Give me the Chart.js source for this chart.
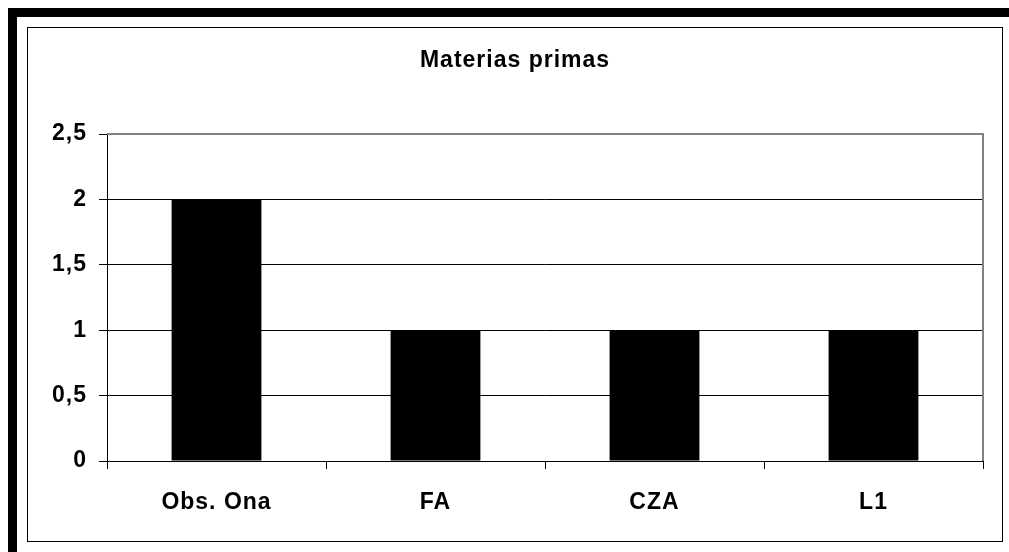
<!DOCTYPE html>
<html>
<head>
<meta charset="utf-8">
<script src="https://cdn.jsdelivr.net/npm/chart.js@4.4.1/dist/chart.umd.min.js"></script>
<style>
  html, body { margin: 0; padding: 0; background: #fff; }
  #wrap { position: relative; width: 1009px; height: 552px; }
</style>
</head>
<body>
<div id="wrap"><canvas id="chart"></canvas></div>
<script>
// data
const categories = ['Obs. Ona', 'FA', 'CZA', 'L1'];
const values = [2, 1, 1, 1];
const yMin = 0;
const yMax = 2.5;
const yStep = 0.5;
const chartTitle = 'Materias primas';

const labelFont = { family: "'Liberation Sans', Arial, sans-serif", size: 23, weight: 'bold' };

// the reference text is a bit wide, so space the letters out a little
function setSpacing(chart) {
  if ('letterSpacing' in chart.ctx) chart.ctx.letterSpacing = '1px';
}

// page frame: thick black band top/left plus thin inner frame, gray plot border
const framePlugin = {
  id: 'frame',
  beforeUpdate: setSpacing,
  beforeLayout: setSpacing,
  beforeDraw(chart) {
    setSpacing(chart);
    const c = chart.ctx;
    c.save();
    c.fillStyle = '#fff';
    c.fillRect(0, 0, chart.width, chart.height);
    c.fillStyle = '#000';
    c.fillRect(8, 8, chart.width - 8, 9);
    c.fillRect(8, 8, 9, chart.height - 8);
    c.strokeStyle = '#000';
    c.lineWidth = 1;
    c.strokeRect(27.5, 27.5, 975, 514);
    c.restore();
  },
  afterDraw(chart) {
    const a = chart.chartArea;
    const c = chart.ctx;
    c.save();
    c.strokeStyle = '#808080';
    c.lineWidth = 2;
    c.beginPath();
    c.moveTo(a.left, a.top);
    c.lineTo(a.right, a.top);
    c.lineTo(a.right, a.bottom);
    c.stroke();
    c.restore();
  }
};

document.addEventListener('DOMContentLoaded', function() {
  const ctx = document.getElementById('chart').getContext('2d');
  new Chart(ctx, {
    type: 'bar',
    data: {
      labels: categories,
      datasets: [{
        data: values,
        backgroundColor: '#000',
        borderWidth: 0,
        categoryPercentage: 1,
        barPercentage: 0.41
      }]
    },
    options: {
      responsive: true,
      maintainAspectRatio: false,
      animation: false,
      layout: { padding: { left: 47, right: 26, top: 40, bottom: 31 } },
      plugins: {
        legend: { display: false },
        tooltip: { enabled: false },
        title: {
          display: true,
          text: chartTitle,
          color: '#000',
          font: labelFont,
          padding: { top: 7, bottom: 59.4 }
        }
      },
      scales: {
        x: {
          grid: {
            drawOnChartArea: false,
            drawTicks: true,
            tickLength: 8,
            tickColor: '#000'
          },
          border: { display: true, color: '#000', width: 1 },
          ticks: { color: '#000', font: labelFont, padding: 20, maxRotation: 0 },
          afterFit(scale) { scale.height = 60; }
        },
        y: {
          min: yMin,
          max: yMax,
          ticks: {
            stepSize: yStep,
            color: '#000',
            font: labelFont,
            padding: 12,
            callback: v => String(v).replace('.', ',')
          },
          grid: {
            color: c => (c.tick && c.tick.value === yMax) ? '#808080' : '#000',
            tickColor: '#000',
            tickLength: 8,
            lineWidth: 1
          },
          border: { display: true, color: '#000', width: 1 },
          afterFit(scale) { scale.width = 60; }
        }
      }
    },
    plugins: [framePlugin]
  });
});
</script>
</body>
</html>
